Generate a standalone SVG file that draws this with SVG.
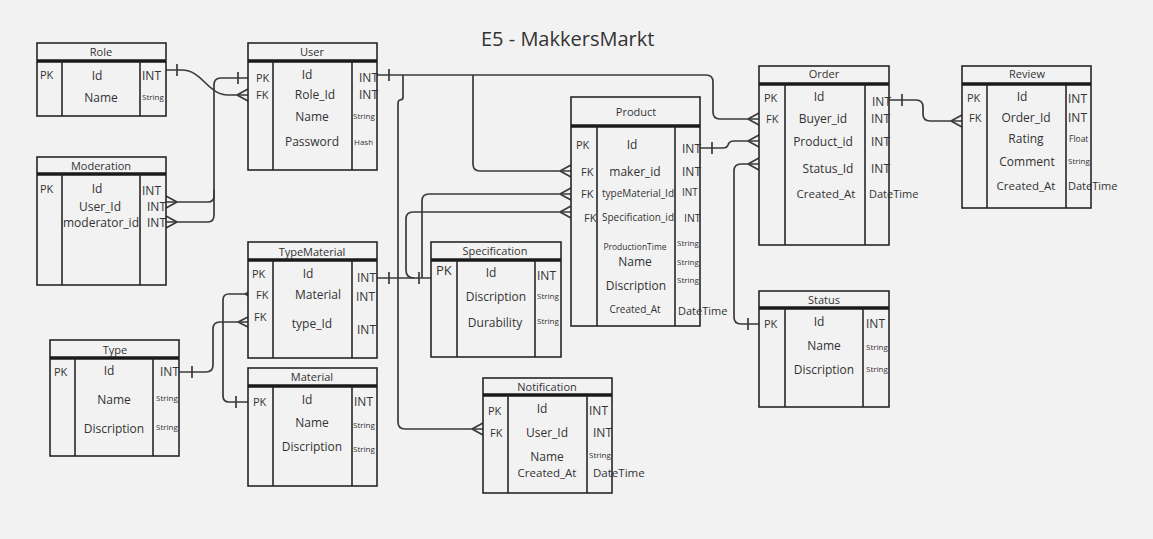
<svg xmlns="http://www.w3.org/2000/svg" width="1153" height="539" viewBox="0 0 1153 539">
<style>
.bg{fill:#f2f2f2}
.tb{fill:#f2f2f2;stroke:#262626;stroke-width:1.6}
.ln{fill:none;stroke:#262626;stroke-width:1.6}
.hd{stroke:#1a1a1a;stroke-width:3.5}
.cn{fill:none;stroke:#3a3a3a;stroke-width:1.7}
text{font-family:"Open Sans","Liberation Sans",sans-serif;fill:#333}
.t{font-size:11px;text-anchor:middle}
.f{font-size:12px;text-anchor:middle}
.k{font-size:11px}
.ty{font-size:12px}
.s{font-size:8px}
.ttl{font-size:20px}
</style>
<rect class="bg" x="0" y="0" width="1153" height="539"/>
<text class="ttl" x="481" y="46">E5 - MakkersMarkt</text>

<g id="connectors">
<!-- Role -> User Role_Id -->
<path class="cn" d="M166,70 H182 C202,70 208,95 228,95 H248"/>
<path class="cn" d="M177,64 V76"/>
<path class="cn" d="M237,95 L248,89 M237,95 L248,101"/>
<!-- User PK -> Moderation -->
<path class="cn" d="M248,78 H221 Q214,78 214,85 V196 Q214,202 208,202 H166"/>
<path class="cn" d="M214,190 V215 Q214,222 208,222 H166"/>
<path class="cn" d="M238,72 V84"/>
<path class="cn" d="M177,202 L166,196 M177,202 L166,208"/>
<path class="cn" d="M177,222 L166,216 M177,222 L166,228"/>
<!-- User INT -> Order Buyer_id -->
<path class="cn" d="M377,75 H706 Q713,75 713,82 V112 Q713,119 720,119 H759"/>
<path class="cn" d="M389,69 V81"/>
<path class="cn" d="M748,119 L759,113 M748,119 L759,125"/>
<!-- User INT -> Product maker_id -->
<path class="cn" d="M473,75 V164 Q473,171 480,171 H571"/>
<path class="cn" d="M560,171 L571,165 M560,171 L571,177"/>
<!-- User INT -> Notification User_Id -->
<path class="cn" d="M403,75 V97 Q403,100 400,100 Q398,100 398,104 V422 Q398,429 405,429 H483"/>
<path class="cn" d="M472,429 L483,423 M472,429 L483,435"/>
<!-- TypeMaterial / Specification -> Product -->
<path class="cn" d="M377,278 H431"/>
<path class="cn" d="M389,272 V284"/>
<path class="cn" d="M419,272 V284"/>
<path class="cn" d="M414,278 Q406,278 406,270 V219 Q406,212 413,212 H571"/>
<path class="cn" d="M422,278 V201 Q422,194 429,194 H571"/>
<path class="cn" d="M560,194 L571,188 M560,194 L571,200"/>
<path class="cn" d="M560,212 L571,206 M560,212 L571,218"/>
<!-- Product Id -> Order Product_id -->
<path class="cn" d="M700,148 H723 Q727,148 728,145 Q729,141 734,141 H759"/>
<path class="cn" d="M712,142 V154"/>
<path class="cn" d="M748,141 L759,135 M748,141 L759,147"/>
<!-- Status PK -> Order Status_Id -->
<path class="cn" d="M759,324 H741 Q734,324 734,317 V171 Q734,164 741,164 H759"/>
<path class="cn" d="M748,318 V330"/>
<path class="cn" d="M748,164 L759,158 M748,164 L759,170"/>
<!-- Order Id -> Review Order_Id -->
<path class="cn" d="M889,100 H916 Q923,100 923,107 V114 Q923,121 930,121 H962"/>
<path class="cn" d="M902,94 V106"/>
<path class="cn" d="M951,121 L962,115 M951,121 L962,127"/>
<!-- Type Id -> TypeMaterial type_Id -->
<path class="cn" d="M179,372 H206 Q213,372 213,365 V329 Q213,322 220,322 H248"/>
<path class="cn" d="M192,366 V378"/>
<path class="cn" d="M238,322 L248,317 M238,322 L248,327"/>
<!-- Material PK -> TypeMaterial Material -->
<path class="cn" d="M248,402 H229 Q223,402 223,396 V300 Q223,294 229,294 H252"/>
<path class="cn" d="M236,396 V408"/>
<path class="cn" d="M245,294 L255,289 M245,294 L255,299"/>
</g>

<g id="role">
<rect class="tb" x="37" y="43" width="129" height="73"/>
<line class="hd" x1="37" y1="61" x2="166" y2="61"/>
<line class="ln" x1="62" y1="61" x2="62" y2="116"/>
<line class="ln" x1="140" y1="61" x2="140" y2="116"/>
<text class="t" x="101" y="56">Role</text>
<text class="k" x="40" y="79">PK</text>
<text class="f" x="97" y="80">Id</text>
<text class="ty" x="142" y="80">INT</text>
<text class="f" x="101" y="102">Name</text>
<text class="s" x="142" y="100">String</text>
</g>

<g id="user">
<rect class="tb" x="248" y="43" width="129" height="127"/>
<line class="hd" x1="248" y1="61" x2="377" y2="61"/>
<line class="ln" x1="273" y1="61" x2="273" y2="170"/>
<line class="ln" x1="352" y1="61" x2="352" y2="170"/>
<text class="t" x="312" y="56">User</text>
<text class="k" x="256" y="82">PK</text>
<text class="f" x="307" y="79">Id</text>
<text class="ty" x="359" y="82">INT</text>
<text class="k" x="256" y="99">FK</text>
<text class="f" x="315" y="99">Role_Id</text>
<text class="ty" x="359" y="99">INT</text>
<text class="f" x="312" y="121">Name</text>
<text class="s" x="353" y="119">String</text>
<text class="f" x="312" y="146">Password</text>
<text class="s" x="354" y="145">Hash</text>
</g>

<g id="moderation">
<rect class="tb" x="37" y="157" width="129" height="128"/>
<line class="hd" x1="37" y1="174" x2="166" y2="174"/>
<line class="ln" x1="62" y1="174" x2="62" y2="285"/>
<line class="ln" x1="140" y1="174" x2="140" y2="285"/>
<text class="t" x="101" y="170">Moderation</text>
<text class="k" x="40" y="193">PK</text>
<text class="f" x="97" y="193">Id</text>
<text class="ty" x="142" y="195">INT</text>
<text class="f" x="100" y="211">User_Id</text>
<text class="ty" x="147" y="211">INT</text>
<text class="f" x="101" y="227">moderator_id</text>
<text class="ty" x="147" y="227">INT</text>
</g>

<g id="typematerial">
<rect class="tb" x="248" y="242" width="129" height="116"/>
<line class="hd" x1="248" y1="260" x2="377" y2="260"/>
<line class="ln" x1="273" y1="260" x2="273" y2="358"/>
<line class="ln" x1="352" y1="260" x2="352" y2="358"/>
<text class="t" x="312" y="256">TypeMaterial</text>
<text class="k" x="252" y="278">PK</text>
<text class="f" x="308" y="278">Id</text>
<text class="ty" x="357" y="282">INT</text>
<text class="k" x="256" y="299">FK</text>
<text class="f" x="318" y="299">Material</text>
<text class="ty" x="356" y="301">INT</text>
<text class="k" x="254" y="321">FK</text>
<text class="f" x="312" y="328">type_Id</text>
<text class="ty" x="357" y="334">INT</text>
</g>

<g id="type">
<rect class="tb" x="50" y="340" width="129" height="116"/>
<line class="hd" x1="50" y1="358" x2="179" y2="358"/>
<line class="ln" x1="75" y1="358" x2="75" y2="456"/>
<line class="ln" x1="153" y1="358" x2="153" y2="456"/>
<text class="t" x="115" y="354">Type</text>
<text class="k" x="54" y="376">PK</text>
<text class="f" x="109" y="375">Id</text>
<text class="ty" x="160" y="376">INT</text>
<text class="f" x="114" y="404">Name</text>
<text class="s" x="156" y="401">String</text>
<text class="f" x="114" y="433">Discription</text>
<text class="s" x="156" y="430">String</text>
</g>

<g id="material">
<rect class="tb" x="248" y="368" width="129" height="118"/>
<line class="hd" x1="248" y1="386" x2="377" y2="386"/>
<line class="ln" x1="273" y1="386" x2="273" y2="486"/>
<line class="ln" x1="352" y1="386" x2="352" y2="486"/>
<text class="t" x="312" y="381">Material</text>
<text class="k" x="253" y="406">PK</text>
<text class="f" x="307" y="404">Id</text>
<text class="ty" x="354" y="406">INT</text>
<text class="f" x="312" y="427">Name</text>
<text class="s" x="353" y="428">String</text>
<text class="f" x="312" y="451">Discription</text>
<text class="s" x="353" y="452">String</text>
</g>

<g id="specification">
<rect class="tb" x="431" y="242" width="130" height="115"/>
<line class="hd" x1="431" y1="260" x2="561" y2="260"/>
<line class="ln" x1="457" y1="260" x2="457" y2="357"/>
<line class="ln" x1="535" y1="260" x2="535" y2="357"/>
<text class="t" x="495" y="255">Specification</text>
<text class="k" x="436" y="275" style="font-size:13px">PK</text>
<text class="f" x="491" y="277">Id</text>
<text class="ty" x="537" y="280">INT</text>
<text class="f" x="496" y="301">Discription</text>
<text class="s" x="537" y="299">String</text>
<text class="f" x="495" y="327">Durability</text>
<text class="s" x="537" y="324">String</text>
</g>

<g id="product">
<rect class="tb" x="571" y="97" width="129" height="229"/>
<line class="hd" x1="571" y1="126" x2="700" y2="126"/>
<line class="ln" x1="597" y1="126" x2="597" y2="326"/>
<line class="ln" x1="675" y1="126" x2="675" y2="326"/>
<text class="t" x="636" y="116">Product</text>
<text class="k" x="576" y="149">PK</text>
<text class="f" x="632" y="149">Id</text>
<text class="ty" x="682" y="153">INT</text>
<text class="k" x="581" y="176">FK</text>
<text class="f" x="635" y="176">maker_id</text>
<text class="ty" x="682" y="176">INT</text>
<text class="k" x="581" y="198">FK</text>
<text class="f" x="638" y="197" style="font-size:10px">typeMaterial_Id</text>
<text class="ty" x="682" y="196" style="font-size:10px">INT</text>
<text class="k" x="584" y="222">FK</text>
<text class="f" x="638" y="221" style="font-size:10px">Specification_id</text>
<text class="ty" x="684" y="222" style="font-size:10.5px">INT</text>
<text class="f" x="635" y="250" style="font-size:8.5px">ProductionTime</text>
<text class="s" x="677" y="246">String</text>
<text class="f" x="635" y="266">Name</text>
<text class="s" x="677" y="265">String</text>
<text class="f" x="636" y="290">Discription</text>
<text class="s" x="677" y="283">String</text>
<text class="f" x="635" y="313" style="font-size:10px">Created_At</text>
<text class="ty" x="678" y="315" style="font-size:11px">DateTime</text>
</g>

<g id="order">
<rect class="tb" x="759" y="66" width="130" height="179"/>
<line class="hd" x1="759" y1="84" x2="889" y2="84"/>
<line class="ln" x1="785" y1="84" x2="785" y2="245"/>
<line class="ln" x1="865" y1="84" x2="865" y2="245"/>
<text class="t" x="824" y="78">Order</text>
<text class="k" x="764" y="102">PK</text>
<text class="f" x="819" y="101">Id</text>
<text class="ty" x="872" y="106">INT</text>
<text class="k" x="766" y="123">FK</text>
<text class="f" x="823" y="123">Buyer_id</text>
<text class="ty" x="871" y="123">INT</text>
<text class="f" x="823" y="146">Product_id</text>
<text class="ty" x="871" y="146">INT</text>
<text class="f" x="828" y="173">Status_Id</text>
<text class="ty" x="871" y="173">INT</text>
<text class="f" x="826" y="198" style="font-size:11.5px">Created_At</text>
<text class="ty" x="869" y="198" style="font-size:11px">DateTime</text>
</g>

<g id="review">
<rect class="tb" x="962" y="66" width="129" height="142"/>
<line class="hd" x1="962" y1="84" x2="1091" y2="84"/>
<line class="ln" x1="987" y1="84" x2="987" y2="208"/>
<line class="ln" x1="1066" y1="84" x2="1066" y2="208"/>
<text class="t" x="1027" y="78">Review</text>
<text class="k" x="967" y="102">PK</text>
<text class="f" x="1022" y="101">Id</text>
<text class="ty" x="1068" y="103">INT</text>
<text class="k" x="969" y="122">FK</text>
<text class="f" x="1026" y="122">Order_Id</text>
<text class="ty" x="1068" y="122">INT</text>
<text class="f" x="1026" y="143">Rating</text>
<text class="s" x="1069" y="142" style="font-size:8.5px">Float</text>
<text class="f" x="1027" y="166">Comment</text>
<text class="s" x="1068" y="164">String</text>
<text class="f" x="1026" y="190" style="font-size:11.5px">Created_At</text>
<text class="ty" x="1068" y="190" style="font-size:11px">DateTime</text>
</g>

<g id="status">
<rect class="tb" x="759" y="291" width="130" height="116"/>
<line class="hd" x1="759" y1="308" x2="889" y2="308"/>
<line class="ln" x1="785" y1="308" x2="785" y2="407"/>
<line class="ln" x1="863" y1="308" x2="863" y2="407"/>
<text class="t" x="824" y="304">Status</text>
<text class="k" x="764" y="328">PK</text>
<text class="f" x="819" y="326">Id</text>
<text class="ty" x="866" y="328">INT</text>
<text class="f" x="824" y="350">Name</text>
<text class="s" x="866" y="350">String</text>
<text class="f" x="824" y="374">Discription</text>
<text class="s" x="866" y="372">String</text>
</g>

<g id="notification">
<rect class="tb" x="483" y="378" width="129" height="115"/>
<line class="hd" x1="483" y1="395" x2="612" y2="395"/>
<line class="ln" x1="508" y1="395" x2="508" y2="493"/>
<line class="ln" x1="587" y1="395" x2="587" y2="493"/>
<text class="t" x="547" y="391">Notification</text>
<text class="k" x="488" y="415">PK</text>
<text class="f" x="542" y="413">Id</text>
<text class="ty" x="589" y="415">INT</text>
<text class="k" x="490" y="437">FK</text>
<text class="f" x="547" y="437">User_Id</text>
<text class="ty" x="593" y="437">INT</text>
<text class="f" x="547" y="461">Name</text>
<text class="s" x="589" y="458">String</text>
<text class="f" x="547" y="477" style="font-size:11.5px">Created_At</text>
<text class="ty" x="593" y="477" style="font-size:11.5px">DateTime</text>
</g>
</svg>
